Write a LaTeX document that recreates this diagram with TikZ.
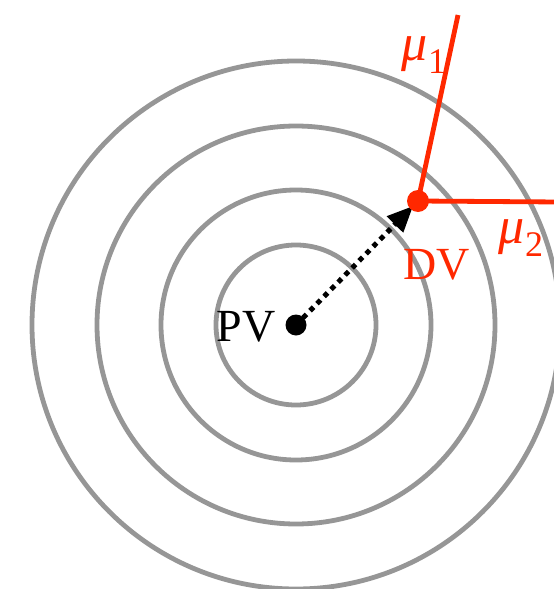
\documentclass[tikz,border=0pt]{standalone}
\usepackage{fontspec}
\setmainfont{Liberation Serif}
\usetikzlibrary{arrows.meta,calc}
\definecolor{ringgray}{RGB}{150,150,150}
\definecolor{dvred}{RGB}{255,40,0}
\newcommand{\mysub}[1]{{\fontsize{52}{52}\selectfont\textit{μ}}\raisebox{-0.3em}{\fontsize{36}{36}\selectfont #1}}
\begin{document}
\begin{tikzpicture}[x=1pt,y=-1pt,
  ring/.style={draw=ringgray,line width=4.8pt},
  redline/.style={draw=dvred,line width=4.8pt},
  lbl/.style={font=\fontsize{46}{46}\selectfont,inner sep=0pt}]
\useasboundingbox (0,0) rectangle (554,589);
\coordinate (pv) at (296,325);
\coordinate (dv) at (418,201);
\coordinate (top) at (458,15);
\coordinate (right) at (560,202);
\foreach \r in {80,135,199,264} \draw[ring] (pv) circle[radius=\r];
\draw[redline] (dv) -- (top);
\draw[redline] (dv) -- (right);
\draw[line width=5pt,dash pattern=on 5pt off 5pt,-{Triangle[length=26pt,width=22pt]}] (pv) -- ($(pv)!0.96!(dv)$);
\fill[black] (pv) circle[radius=10.5];
\fill[dvred] (dv) circle[radius=11];
\node[lbl,anchor=east] (pvl) at (276,327) {PV};
\node[lbl,text=dvred] (dvl) at (437,265) {DV};
\node[lbl,text=dvred] (mu1) at (424,55) {\mysub{1}};
\node[lbl,text=dvred] (mu2) at (521,238) {\mysub{2}};
\end{tikzpicture}
\end{document}
